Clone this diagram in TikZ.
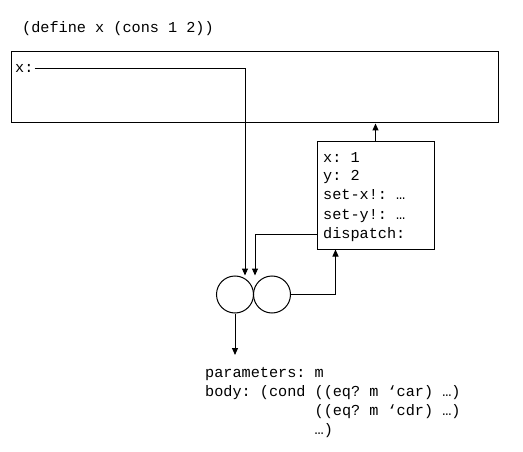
\documentclass[tikz,border=0pt]{standalone}
\usepackage{fontspec}
\setmonofont{Liberation Mono}
\usetikzlibrary{arrows.meta,positioning}

\newcommand{\condindent}{\phantom{body:~(cond~}}

\begin{document}
\begin{tikzpicture}
[
x=1pt, y=-1pt,
code/.style={font=\ttfamily\fontsize{15.2}{19}\selectfont, inner sep=0pt, align=left},
framebox/.style={draw=black, line width=1pt, inner sep=0pt},
halfnode/.style={circle, draw=black, line width=1pt, minimum size=37pt, inner sep=0pt},
ptr/.style={-{Triangle[length=7pt,width=6pt]}, line width=1pt},
]
\useasboundingbox (0,0) rectangle (523,452);

%Nodes
\node[code, anchor=base west] (define) at (22,33) {(define x (cons 1 2))};

\node[framebox, minimum width=487pt, minimum height=71pt] (global) at (254.5,87.5) {};
\node[code, anchor=base west] (xname) at (15,73) {x:};

\node[framebox, minimum width=117pt, minimum height=107pt] (env) at (375.5,195.5) {};
\node[code, anchor=base west] (xval) at (323,162) {x: 1};
\node[code, anchor=base west] (yval) at ([yshift=-19pt]xval.base west) {y: 2};
\node[code, anchor=base west] (setx) at ([yshift=-19pt]yval.base west) {set-x!: …};
\node[code, anchor=base west] (sety) at ([yshift=-19pt]setx.base west) {set-y!: …};
\node[code, anchor=base west] (dispatch) at ([yshift=-19pt]sety.base west) {dispatch:};

\node[halfnode] (codeptr) at (235,294.5) {};
\node[halfnode] (envptr) [right=-1pt of codeptr] {};

\node[code, anchor=north west] (proc) at (205,367) {parameters: m\\
body: (cond ((eq? m ‘car) …)\\
\condindent((eq? m ‘cdr) …)\\
\condindent…)};

%Lines
\draw[ptr] (xname.east) ++(1pt,0) -| ([xshift=10pt]codeptr.north);
\draw[ptr] (dispatch.west -| env.west) -| ([xshift=-17pt]envptr.north);
\draw[ptr] (envptr.east) -| ([xshift=-40pt]env.south);
\draw[ptr] (env.north) -- (env.north |- global.south);
\draw[ptr] (codeptr.south) -- ([yshift=12pt]codeptr.south |- proc.north);
\end{tikzpicture}
\end{document}
